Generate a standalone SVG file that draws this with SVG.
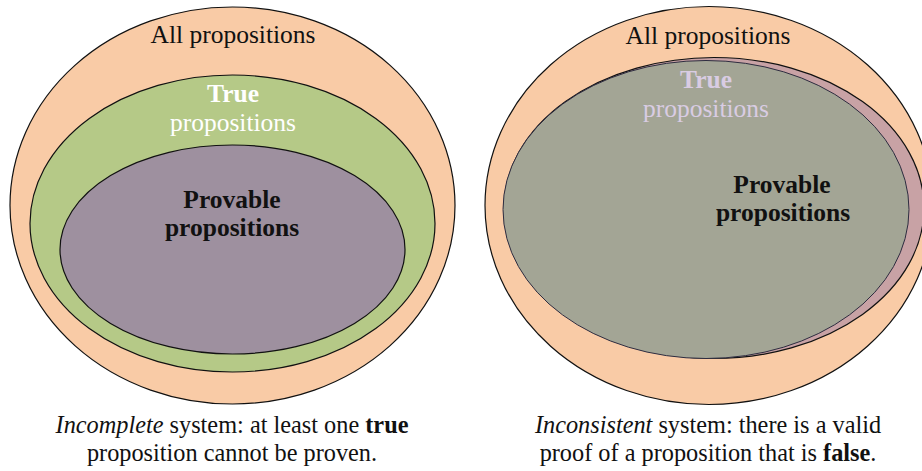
<svg xmlns="http://www.w3.org/2000/svg" width="922" height="471" viewBox="0 0 922 471">
<style>
.ser{font-family:"Liberation Serif","Times New Roman",serif;}
.lbl{font-size:25.5px;text-anchor:middle;}
.b{font-weight:bold;}
.cap{font-size:24.3px;text-anchor:middle;fill:#111;}
.outer{fill:#F9CBA6;stroke:#111;stroke-width:1.2;}
</style>
<rect width="922" height="471" fill="#ffffff"/>
<g id="left-all">
<ellipse class="outer" cx="232.5" cy="205.5" rx="222.5" ry="198.5"/>
<text class="ser lbl" x="233" y="43" fill="#111">All propositions</text>
</g>
<g id="left-true">
<ellipse cx="232.5" cy="223.5" rx="202.5" ry="148.5" fill="#B5C987" stroke="#111" stroke-width="1.2"/>
<text class="ser lbl b" x="233" y="102" fill="#ffffff" font-size="23">True</text>
<text class="ser lbl" x="233" y="131" fill="#ffffff">propositions</text>
</g>
<g id="left-provable">
<ellipse cx="232.5" cy="249.5" rx="172.5" ry="104.5" fill="#9E909F" stroke="#111" stroke-width="1.2"/>
<text class="ser lbl b" x="232" y="208" fill="#111">Provable</text>
<text class="ser lbl b" x="232" y="236" fill="#111">propositions</text>
</g>
<g id="right-all">
<ellipse class="outer" cx="709" cy="205.5" rx="224" ry="199"/>
<text class="ser lbl" x="708" y="44" fill="#111">All propositions</text>
</g>
<g id="right-true">
<ellipse cx="714" cy="208" rx="210" ry="150.5" fill="#C8A2A5" stroke="#111" stroke-width="1.2"/>
</g>
<g id="right-provable">
<ellipse cx="706" cy="209.5" rx="203" ry="149" fill="#A3A595" stroke="#2e2c40" stroke-width="1"/>
<text class="ser lbl b" x="706" y="88" fill="#D9CCE3" font-size="23">True</text>
<text class="ser lbl" x="706" y="117" fill="#D9CCE3">propositions</text>
<text class="ser lbl b" x="782" y="193" fill="#111">Provable</text>
<text class="ser lbl b" x="783" y="221" fill="#111">propositions</text>
</g>
<g id="connectors"></g>
<g id="captions">
<text class="ser cap" x="232" y="433"><tspan font-style="italic">Incomplete</tspan> system: at least one <tspan font-weight="bold">true</tspan></text>
<text class="ser cap" x="232" y="461">proposition cannot be proven.</text>
<text class="ser cap" x="708" y="433"><tspan font-style="italic">Inconsistent</tspan> system: there is a valid</text>
<text class="ser cap" x="708" y="461">proof of a proposition that is <tspan font-weight="bold">false</tspan>.</text>
</g>
</svg>
